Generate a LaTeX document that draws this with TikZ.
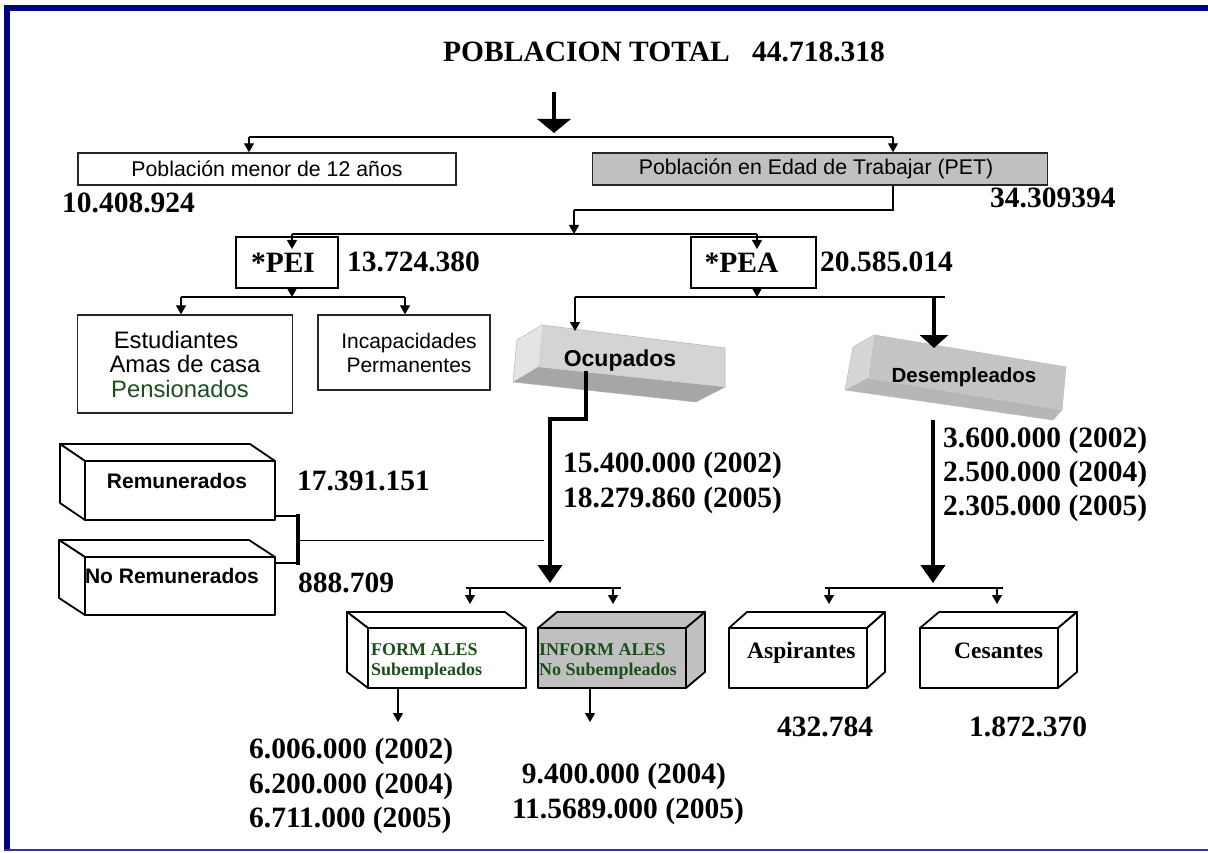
\documentclass[tikz,border=0pt]{standalone}
\usepackage{fontspec}
\setmainfont{Liberation Serif}
\newfontfamily\arialf{Liberation Sans}
\usetikzlibrary{arrows.meta}
\definecolor{navyb}{RGB}{0,0,128}
\definecolor{boxgray}{RGB}{192,192,192}
\definecolor{dgreen}{RGB}{28,78,28}
\definecolor{ocuA}{RGB}{212,212,212}
\definecolor{ocuB}{RGB}{228,228,228}
\definecolor{ocuC}{RGB}{166,166,166}
\definecolor{desA}{RGB}{196,196,196}
\definecolor{desB}{RGB}{214,214,214}
\definecolor{desC}{RGB}{182,182,182}
\begin{document}
\begin{tikzpicture}[x=1pt,y=-1pt,
  conn/.style={line width=1.3pt},
  arr/.style={line width=1.3pt,-{Triangle[length=9pt,width=10pt]}},
  bigarr/.style={line width=4pt,-{Triangle[length=18pt,width=24pt]}},
  num/.style={font=\fontsize{29.5}{34}\selectfont\bfseries,inner sep=0pt,anchor=base west},
  flatbox/.style={draw=black!85,line width=1.4pt,inner sep=0pt},
  face/.style={draw=black,line width=1.8pt,line join=round},
  sanslbl/.style={font=\arialf\bfseries\fontsize{21}{24}\selectfont,inner sep=0pt,anchor=base},
  greenlbl/.style={font=\fontsize{18}{20}\selectfont\bfseries,text=dgreen,inner sep=0pt,anchor=base west},
  serlbl/.style={font=\fontsize{23.5}{26}\selectfont\bfseries,inner sep=0pt,anchor=base west},
]
\useasboundingbox (0,0) rectangle (1208,853);
% frame
\fill[navyb] (4,5) rectangle (1208,11);
\fill[navyb] (4,5) rectangle (10,851);
\draw[navyb!80,line width=1.5pt] (4,850) -- (1208,850);

% title
\node[num] (title) at (443,62) {POBLACION TOTAL};
\node[num] (total) at (752,62) {44.718.318};
\coordinate (a0) at (554,92);
\coordinate (a1) at (554,133);
\draw[line width=4pt,-{Triangle[length=14pt,width=33pt]}] (a0) -- (a1);

% level 1
\node[flatbox,minimum width=378pt,minimum height=32pt,font=\arialf\fontsize{21.3}{24}\selectfont] (menor) at (267,169) {Población menor de 12 años};
\node[flatbox,fill=boxgray,minimum width=455pt,minimum height=32pt,font=\arialf\fontsize{21.3}{24}\selectfont] (pet) at (820,169) {Población en Edad de Trabajar (PET)\hspace*{8pt}};
\coordinate (h1L) at (249,137);
\coordinate (h1R) at (893,137);
\draw[conn] (h1L) -- (h1R);
\draw[arr] (h1L) -- (h1L |- menor.north);
\draw[arr] (h1R) -- (h1R |- pet.north);
\node[num] (nmenor) at (62,213) {10.408.924};
\node[num] (npet) at (990,208) {34.309394};

% PET -> PEI / PEA
\coordinate (p1) at (893,210);
\coordinate (p2) at (574,210);
\coordinate (p3) at (574,234);
\draw[conn] (pet.south -| p1) -- (p1) -- (p2);
\draw[arr] (p2) -- (p3);
\coordinate (h2L) at (292,234);
\coordinate (h2R) at (757,234);
\draw[conn] (h2L) -- (h2R);
\node[draw,line width=2pt,minimum width=102pt,minimum height=51pt,inner sep=0pt,font=\fontsize{29.5}{34}\selectfont\bfseries] (pei) at (287,262.5) {*PEI\hspace*{8pt}};
\node[draw,line width=2pt,minimum width=125pt,minimum height=51pt,inner sep=0pt,font=\fontsize{29.5}{34}\selectfont\bfseries] (pea) at (753.5,262.5) {*PEA\hspace*{24pt}};
\coordinate (peiT) at (292,249);
\coordinate (peaT) at (757,249);
\draw[arr] (h2L) -- (peiT);
\draw[arr] (h2R) -- (peaT);
\node[num] (npei) at (347,272) {13.724.380};
\node[num] (npea) at (820,272) {20.585.014};

% PEI children
\coordinate (q0) at (292,297);
\coordinate (q1) at (181,297);
\coordinate (q2) at (405,297);
\draw[arr] (pei.south -| q0) -- (q0);
\draw[conn] (q1) -- (q2);
\node[flatbox,minimum width=215pt,minimum height=98pt,align=center,font=\arialf\fontsize{23.8}{24.5}\selectfont] (estu) at (185,364) {Estudiantes\hspace*{18pt}\\Amas de casa\hspace*{10pt}\\\textcolor{dgreen}{Pensionados}\hspace*{10pt}};
\node[flatbox,minimum width=172pt,minimum height=75pt,align=center,font=\arialf\fontsize{21}{24}\selectfont] (inca) at (404,352.5) {\hspace*{10pt}Incapacidades\\\hspace*{10pt}Permanentes};
\draw[arr] (q1) -- (q1 |- estu.north);
\draw[arr] (q2) -- (q2 |- inca.north);

% PEA children
\coordinate (s0) at (757,297);
\coordinate (s1) at (575,297);
\coordinate (s2) at (945,297);
\coordinate (s3) at (934,297);
\draw[arr] (pea.south -| s0) -- (s0);
\draw[conn] (s1) -- (s2);

% Ocupados slab
\fill[ocuA] (542,325) -- (725,348) -- (725,387) -- (538,367) -- cycle;
\fill[ocuB] (542,325) -- (517,340) -- (513,382) -- (538,367) -- cycle;
\fill[ocuC] (513,382) -- (538,367) -- (725,387) -- (696,402) -- cycle;
\draw[gray!60,line width=0.5pt] (542,325) -- (725,348) -- (725,387) -- (696,402) -- (513,382) -- (517,340) -- cycle;
\node[font=\arialf\bfseries\fontsize{23}{26}\selectfont,inner sep=0pt,anchor=base] (ocu) at (620,366) {Ocupados};
\coordinate (s1t) at (575,331);
\draw[arr] (s1) -- (s1t);

% Desempleados slab
\fill[desA] (874,335) -- (1066,367) -- (1062,410) -- (868,378) -- cycle;
\fill[desB] (874,335) -- (853,347) -- (845,390) -- (868,378) -- cycle;
\fill[desC] (845,390) -- (868,378) -- (1062,410) -- (1053,420) -- cycle;
\draw[gray!55,line width=0.5pt] (874,335) -- (1066,367) -- (1062,410) -- (1053,420) -- (845,390) -- (853,347) -- cycle;
\node[font=\arialf\bfseries\fontsize{20.5}{24}\selectfont,inner sep=0pt,anchor=base] (des) at (964,382) {Desempleados};
\coordinate (s3t) at (934,348);
\draw[line width=4pt,-{Triangle[length=13pt,width=28pt]}] (s3) -- (s3t);

% Ocupados -> down
\coordinate (o1) at (586,419);
\coordinate (o2) at (550,419);
\coordinate (o3) at (550,583);
\draw[bigarr] (ocu.south -| o1) -- (o1) -- (o2) -- (o3);
\node[num] (no1) at (563,472) {15.400.000 (2002)};
\node[num] (no2) at (563,507) {18.279.860 (2005)};

% Desempleados -> down
\coordinate (d0) at (933,420);
\coordinate (d1) at (933,583);
\draw[bigarr] (d0) -- (d1);
\node[num] (nd1) at (943,447) {3.600.000 (2002)};
\node[num] (nd2) at (943,481) {2.500.000 (2004)};
\node[num] (nd3) at (943,515) {2.305.000 (2005)};

% Remunerados boxes
\draw[face,fill=white] (85,461) -- (60,444) -- (250,444) -- (275,461) -- cycle;
\draw[face,fill=white] (85,461) -- (60,444) -- (60,503) -- (85,520) -- cycle;
\node[face,fill=white,minimum width=190pt,minimum height=59pt,inner sep=0pt] (rem) at (180,490.5) {};
\node[sanslbl] (remT) at (177,488) {Remunerados};
\draw[face,fill=white] (85,557) -- (59,540) -- (249,540) -- (275,557) -- cycle;
\draw[face,fill=white] (85,557) -- (59,540) -- (59,598) -- (85,615) -- cycle;
\node[face,fill=white,minimum width=190pt,minimum height=58pt,inner sep=0pt] (norem) at (180,586) {};
\node[sanslbl] (noremT) at (172,583) {No Remunerados};
\coordinate (r1) at (298,516);
\coordinate (r2) at (298,563);
\coordinate (r3) at (300,540);
\coordinate (r4) at (544,540);
\draw[conn] (rem.east |- r1) -- (r1);
\draw[conn] (norem.east |- r2) -- (r2);
\draw[line width=3.5pt,shorten <=-2pt,shorten >=-2pt] (r1) -- (r2);
\draw[line width=1pt] (r3) -- (r4);
\node[num] (nrem) at (297,490) {17.391.151};
\node[num] (nnorem) at (298,592) {888.709};

% Ocupados split
\coordinate (u1) at (470,588);
\coordinate (u2) at (613,588);
\draw[conn] (466,588) coordinate (u0) -- (621,588) coordinate (u3);
\coordinate (u1t) at (470,604);
\coordinate (u2t) at (613,604);
\draw[arr] (u1) -- (u1t);
\draw[arr] (u2) -- (u2t);

% Desempleados split
\coordinate (v1) at (829,588);
\coordinate (v2) at (997,588);
\draw[conn] (825,588) coordinate (v0) -- (1003,588) coordinate (v3);
\coordinate (v1t) at (829,604);
\coordinate (v2t) at (997,604);
\draw[arr] (v1) -- (v1t);
\draw[arr] (v2) -- (v2t);

% FORMALES
\draw[face,fill=white] (368,628) -- (347,612) -- (505,612) -- (526,628) -- cycle;
\draw[face,fill=white] (368,628) -- (347,612) -- (347,672) -- (368,688) -- cycle;
\node[face,fill=white,minimum width=158pt,minimum height=60pt,inner sep=0pt] (form) at (447,658) {};
\node[greenlbl] (formT1) at (371,655) {FORM ALES};
\node[greenlbl] (formT2) at (371,675) {Subempleados};
% INFORMALES
\draw[face,fill=boxgray] (538,628) -- (557,612) -- (705,612) -- (686,628) -- cycle;
\draw[face,fill=boxgray] (686,628) -- (705,612) -- (705,672) -- (686,688) -- cycle;
\node[face,fill=boxgray,minimum width=148pt,minimum height=60pt,inner sep=0pt] (inform) at (612,658) {};
\node[greenlbl] (informT1) at (539,655) {INFORM ALES};
\node[greenlbl] (informT2) at (539,675) {No Subempleados};
% Aspirantes
\draw[face,fill=white] (729,628) -- (747,612) -- (885,612) -- (867,628) -- cycle;
\draw[face,fill=white] (867,628) -- (885,612) -- (885,672) -- (867,688) -- cycle;
\node[face,fill=white,minimum width=138pt,minimum height=60pt,inner sep=0pt] (asp) at (798,658) {};
\node[serlbl] (aspT) at (747,658) {Aspirantes};
% Cesantes
\draw[face,fill=white] (920,628) -- (939,612) -- (1077,612) -- (1058,628) -- cycle;
\draw[face,fill=white] (1058,628) -- (1077,612) -- (1077,672) -- (1058,688) -- cycle;
\node[face,fill=white,minimum width=138pt,minimum height=60pt,inner sep=0pt] (ces) at (989,658) {};
\node[serlbl] (cesT) at (954,658) {Cesantes};

% arrows below boxes
\coordinate (f1) at (398,722);
\coordinate (f2) at (590,722);
\draw[arr] (f1 |- form.south) -- (f1);
\draw[arr] (f2 |- inform.south) -- (f2);

\node[num] (nasp) at (777,736) {432.784};
\node[num] (nces) at (969,736) {1.872.370};
\node[num] (nf1) at (249,758) {6.006.000 (2002)};
\node[num] (nf2) at (249,793) {6.200.000 (2004)};
\node[num] (nf3) at (249,827) {6.711.000 (2005)};
\node[num,anchor=base] (ni1) at (624,783) {9.400.000 (2004)};
\node[num,anchor=base] (ni2) at (628,818) {11.5689.000 (2005)};
\end{tikzpicture}
\end{document}
